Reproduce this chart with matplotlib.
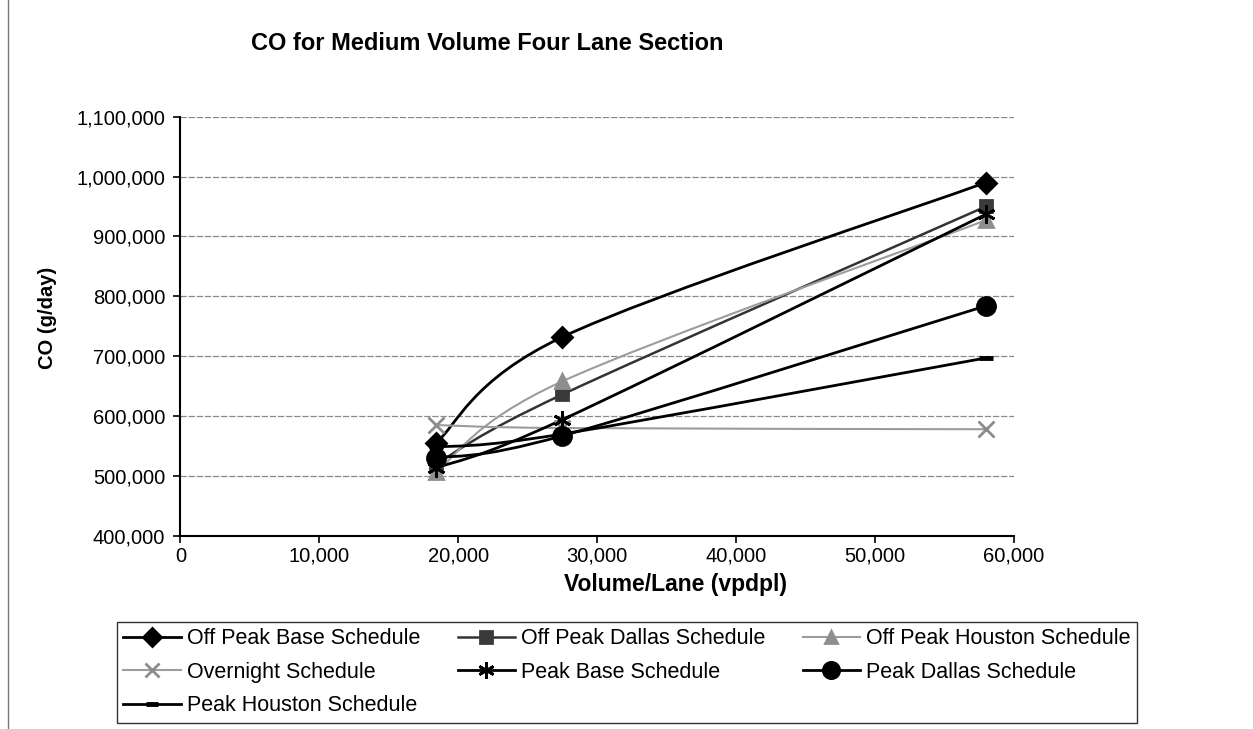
import matplotlib
matplotlib.use("Agg")
import matplotlib.pyplot as plt
from matplotlib.path import Path
from matplotlib.patches import PathPatch
from matplotlib.lines import Line2D
from matplotlib.ticker import FuncFormatter, MultipleLocator

plt.rcParams['font.family'] = ['Liberation Sans', 'DejaVu Sans']

volume = [18400, 27500, 58000]

off_peak_base = [555000, 732000, 990000]
off_peak_dallas = [520000, 636000, 950000]
off_peak_houston = [507000, 658000, 927000]
overnight = [585000, 580000, 578000]
peak_base = [513000, 594000, 937000]
peak_dallas = [530000, 567000, 784000]
peak_houston = [548000, 570000, 697000]

names = ["Off Peak Base Schedule", "Off Peak Dallas Schedule", "Off Peak Houston Schedule",
         "Overnight Schedule", "Peak Base Schedule", "Peak Dallas Schedule",
         "Peak Houston Schedule"]
series = [off_peak_base, off_peak_dallas, off_peak_houston, overnight,
          peak_base, peak_dallas, peak_houston]

# line colour, line width, marker, marker size, marker colour
styles = [
    ("black", 2.0, "D", 10, "black"),
    ("#333333", 1.8, "s", 9, "#3a3a3a"),
    ("#9c9c9c", 1.5, "^", 10, "#8e8e8e"),
    ("#9c9c9c", 1.5, "x", 11, "#8c8c8c"),
    ("black", 2.0, (6, 2, 0), 13, "black"),
    ("black", 2.0, "o", 13, "black"),
    ("black", 2.0, "_", 10, "black"),
]


def smooth_path(xs, ys):
    # excel style smoothed line: bezier through the points
    pts = list(zip(xs, ys))
    verts = [pts[0]]
    codes = [Path.MOVETO]
    n = len(pts)
    for i in range(n - 1):
        p0 = pts[i - 1] if i > 0 else pts[i]
        p1 = pts[i]
        p2 = pts[i + 1]
        p3 = pts[i + 2] if i + 2 < n else pts[i + 1]
        c1 = (p1[0] + (p2[0] - p0[0]) / 6.0, p1[1] + (p2[1] - p0[1]) / 6.0)
        c2 = (p2[0] - (p3[0] - p1[0]) / 6.0, p2[1] - (p3[1] - p1[1]) / 6.0)
        verts += [c1, c2, p2]
        codes += [Path.CURVE4, Path.CURVE4, Path.CURVE4]
    return Path(verts, codes)


fig = plt.figure(figsize=(12.53, 7.29), dpi=100)
ax = fig.add_axes([0.144, 0.265, 0.665, 0.575])

handles = []
for name, vals, (lc, lw, mk, ms, mc) in zip(names, series, styles):
    patch = PathPatch(smooth_path(volume, vals), facecolor="none", edgecolor=lc,
                      lw=lw, zorder=3)
    ax.add_patch(patch)
    mew = 3.5 if mk == "_" else 2.0
    ax.plot(volume, vals, linestyle="none", marker=mk, markersize=ms,
            color=mc, markeredgecolor=mc, markeredgewidth=mew, zorder=4)
    handles.append(Line2D([], [], color=lc, lw=lw, marker=mk, markersize=ms * 0.9,
                          markerfacecolor=mc, markeredgecolor=mc,
                          markeredgewidth=mew))

ax.set_xlim(0, 60000)
ax.set_ylim(400000, 1100000)
ax.xaxis.set_major_locator(MultipleLocator(10000))
ax.yaxis.set_major_locator(MultipleLocator(100000))
fmt = FuncFormatter(lambda v, p: "{:,.0f}".format(v))
ax.xaxis.set_major_formatter(fmt)
ax.yaxis.set_major_formatter(fmt)
ax.grid(axis="y", color="#8a8a8a", lw=0.9, ls=(0, (5, 1.5)))
ax.set_axisbelow(True)
ax.spines["right"].set_visible(False)
ax.spines["top"].set_visible(False)
ax.spines["left"].set_linewidth(1.5)
ax.spines["bottom"].set_linewidth(1.5)
ax.tick_params(direction="out", length=5, width=1.2, labelsize=14.5, pad=6)
ax.tick_params(axis="x", pad=3)

ax.set_ylabel("CO (g/day)", fontsize=14.5, fontweight="bold")
ax.yaxis.set_label_coords(-0.148, 0.52)
fig.text(675 / 1253, 1 - 584 / 729, "Volume/Lane (vpdpl)", fontsize=16.5,
         fontweight="bold", ha="center", va="center")
fig.text(487 / 1253, 1 - 43 / 729, "CO for Medium Volume Four Lane Section",
         fontsize=17, fontweight="bold", ha="center", va="center")

# row-major order in the legend, three columns
order = [0, 3, 6, 1, 4, 2, 5]
leg = fig.legend(handles=[handles[i] for i in order],
                 labels=[names[i] for i in order], loc="upper left",
                 bbox_to_anchor=(117 / 1253, 1 - 622 / 729),
                 ncol=3, fontsize=15.5, frameon=True, fancybox=False,
                 handlelength=2.65, borderaxespad=0, columnspacing=1.75,
                 labelspacing=0.58, handletextpad=0.28, borderpad=0.3)
leg.get_frame().set_edgecolor("black")
leg.get_frame().set_linewidth(1.0)

fig.add_artist(Line2D([0.006, 0.006], [0.0, 1.0], color="#777777", lw=1.0))

fig.savefig("out.png", dpi=100)
